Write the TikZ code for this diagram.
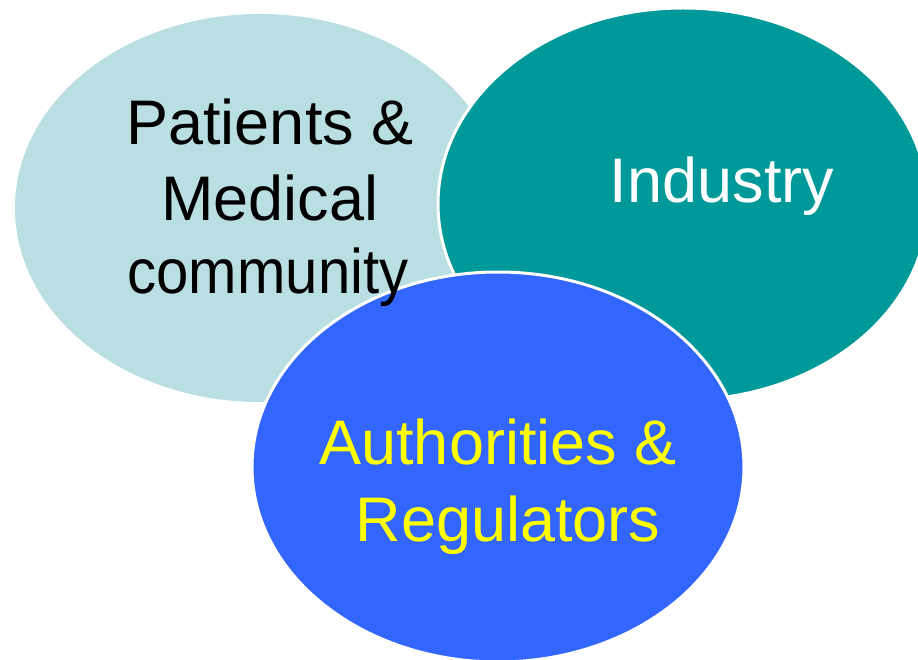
\documentclass[tikz,border=0pt]{standalone}
\usepackage{fontspec}
\setmainfont{Liberation Sans}
\definecolor{paleblue}{HTML}{B9DFE3}
\definecolor{tealc}{HTML}{009999}
\definecolor{bluec}{HTML}{3366FF}
\definecolor{yellowc}{HTML}{FFFF00}
\begin{document}
\begin{tikzpicture}[x=1pt,y=-1pt,
  blob/.style={line width=3pt,draw=white},
  lbl/.style={inner sep=0pt,anchor=base,font=\fontsize{63}{75}\selectfont}]
\useasboundingbox (0,0) rectangle (918,660);
\fill[paleblue] (260,208) ellipse [x radius=245,y radius=194];
\filldraw[blob,fill=tealc] (683,204) ellipse [x radius=245,y radius=196];
\filldraw[blob,fill=bluec] (498,467) ellipse [x radius=246,y radius=195];
\node[lbl,text=black] (p1) at (270,145) {Patients \&};
\node[lbl,text=black] (p2) at (270,221) {Medical};
\node[lbl,text=black] (p3) at (268,294) {\scalebox{0.922}[1]{community}};
\node[lbl,text=white] (ind) at (722,203) {Industry};
\node[lbl,text=yellowc] (a1) at (498,464) {Authorities \&};
\node[lbl,text=yellowc] (a2) at (508,541) {Regulators};
\end{tikzpicture}
\end{document}
